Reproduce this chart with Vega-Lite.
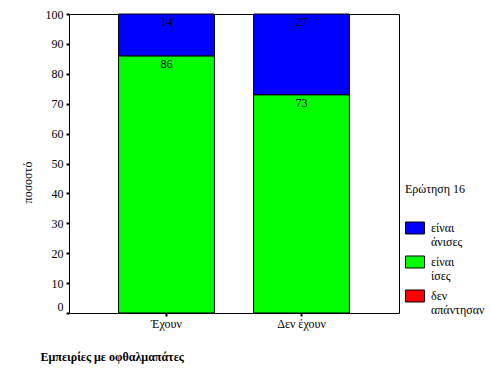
{
  "$schema": "https://vega.github.io/schema/vega-lite/v6.json",
  "autosize": "none",
  "padding": {"left": 69, "top": 14, "right": 91, "bottom": 71},
  "width": 330,
  "height": 299,
  "background": "white",
  "config": {
    "view": {"stroke": "black", "strokeWidth": 1},
    "font": "'Liberation Serif', 'DejaVu Serif', serif",
    "axis": {"labelFont": "'Liberation Serif', 'DejaVu Serif', serif", "titleFont": "'Liberation Serif', 'DejaVu Serif', serif", "labelColor": "black", "titleColor": "black", "tickColor": "black", "domain": false, "grid": false, "labelOverlap": false, "labelFlush": false}
  },
  "data": {"values": [
    {"group": "Έχουν", "answer": "είναι ίσες", "pct": 86},
    {"group": "Έχουν", "answer": "είναι άνισες", "pct": 14},
    {"group": "Δεν έχουν", "answer": "είναι ίσες", "pct": 73},
    {"group": "Δεν έχουν", "answer": "είναι άνισες", "pct": 27}
  ]},
  "transform": [
    {"stack": "pct", "groupby": ["group"], "as": ["y0", "y1"], "sort": [{"field": "answer", "order": "descending"}]}
  ],
  "encoding": {
    "x": {
      "field": "group", "type": "nominal", "sort": ["Έχουν", "Δεν έχουν"],
      "scale": {"paddingInner": 0.29, "paddingOuter": 0.367},
      "axis": {
        "title": "Εμπειρίες με οφθαλμαπάτες", "titleFontWeight": "bold", "titleFontSize": 12,
        "titleAnchor": "start", "titleAlign": "left", "titleX": -29, "titleY": 43, "titleBaseline": "middle",
        "labelAngle": 0, "labelFontSize": 12, "labelPadding": 2, "tickSize": 3, "tickWidth": 2
      }
    }
  },
  "layer": [
    {
      "mark": {"type": "bar", "stroke": "black", "strokeWidth": 1},
      "encoding": {
        "y": {
          "field": "y0", "type": "quantitative", "scale": {"domain": [0, 100], "nice": false},
          "axis": {
            "title": "ποσοστό", "titleFontWeight": "normal", "titleFontSize": 12, "titleX": -42, "titleY": 168,
            "titleBaseline": "middle", "titleAngle": -90,
            "values": [0, 10, 20, 30, 40, 50, 60, 70, 80, 90, 100],
            "labelFontSize": 12, "labelPadding": 3, "tickSize": 3, "tickWidth": 2,
            "labelBaseline": {"condition": {"test": "datum.value == 0", "value": "bottom"}, "value": "middle"}
          }
        },
        "y2": {"field": "y1"},
        "color": {
          "field": "answer", "type": "nominal",
          "scale": {"domain": ["είναι άνισες", "είναι ίσες", "δεν απάντησαν"], "range": ["#0000FF", "#00FF00", "#FF0000"]},
          "legend": {
            "title": "Ερώτηση 16", "titleFont": "'Liberation Serif', 'DejaVu Serif', serif", "titleFontSize": 12, "titleFontWeight": "normal", "titleColor": "black",
            "titlePadding": 22,
            "orient": "none", "legendX": 336, "legendY": 170,
            "labelFont": "'Liberation Serif', 'DejaVu Serif', serif", "labelFontSize": 12, "labelColor": "black",
            "labelExpr": "split(datum.label, ' ')",
            "symbolType": "M-1,-0.63H1V0.63H-1Z", "symbolSize": 361, "symbolStrokeColor": "black", "symbolStrokeWidth": 1,
            "symbolOpacity": 1, "rowPadding": 4, "labelOffset": 6
          }
        }
      }
    },
    {
      "mark": {"type": "text", "baseline": "top", "dy": 3, "fontSize": 12, "font": "'Liberation Serif', 'DejaVu Serif', serif", "color": "black"},
      "encoding": {
        "y": {
          "field": "y1", "type": "quantitative",
          "axis": {
            "title": "ποσοστό", "titleFontWeight": "normal", "titleFontSize": 12, "titleX": -42, "titleY": 168,
            "titleBaseline": "middle", "titleAngle": -90,
            "values": [0, 10, 20, 30, 40, 50, 60, 70, 80, 90, 100],
            "labelFontSize": 12, "labelPadding": 3, "tickSize": 3, "tickWidth": 2,
            "labelBaseline": {"condition": {"test": "datum.value == 0", "value": "bottom"}, "value": "middle"}
          }
        },
        "text": {"field": "pct", "type": "quantitative"}
      }
    }
  ]
}
